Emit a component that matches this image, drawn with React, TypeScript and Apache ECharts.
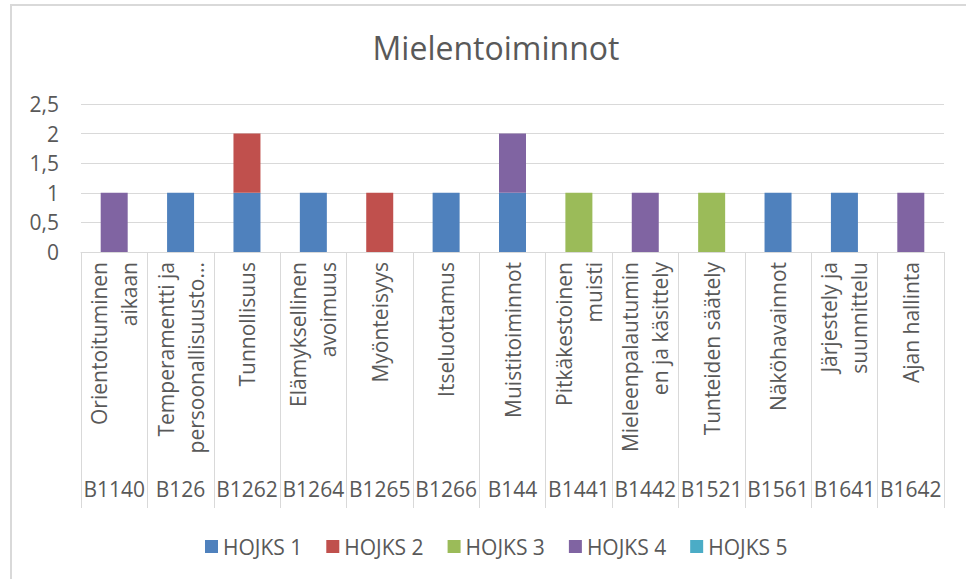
import React, { useEffect, useRef } from "react";
import * as echarts from "echarts";

const categoryNames = [
  "Orientoituminen\naikaan",
  "Temperamentti ja\npersoonallisuusto...",
  "Tunnollisuus",
  "Elämyksellinen\navoimuus",
  "Myönteisyys",
  "Itseluottamus",
  "Muistitoiminnot",
  "Pitkäkestoinen\nmuisti",
  "Mieleenpalautumin\nen ja käsittely",
  "Tunteiden säätely",
  "Näköhavainnot",
  "Järjestely ja\nsuunnittelu",
  "Ajan hallinta",
];
const categoryCodes = [
  "B1140", "B126", "B1262", "B1264", "B1265", "B1266", "B144",
  "B1441", "B1442", "B1521", "B1561", "B1641", "B1642",
];
const seriesNames = ["HOJKS 1", "HOJKS 2", "HOJKS 3", "HOJKS 4", "HOJKS 5"];
const hojks1 = [0, 1, 1, 1, 0, 1, 1, 0, 0, 0, 1, 1, 0];
const hojks2 = [0, 0, 1, 0, 1, 0, 0, 0, 0, 0, 0, 0, 0];
const hojks3 = [0, 0, 0, 0, 0, 0, 0, 1, 0, 1, 0, 0, 0];
const hojks4 = [1, 0, 0, 0, 0, 0, 1, 0, 1, 0, 0, 0, 1];
const hojks5 = [0, 0, 0, 0, 0, 0, 0, 0, 0, 0, 0, 0, 0];
const seriesValues = [hojks1, hojks2, hojks3, hojks4, hojks5];
const colors = ["#4F81BD", "#C0504D", "#9BBB59", "#8064A2", "#4BACC6"];

const FONT = "Open Sans";
const TXT = "#595959";
const GRIDC = "#D9D9D9";

export default function App() {
  const ref = useRef<HTMLDivElement>(null);
  useEffect(() => {
    if (!ref.current) return;
    const chart = echarts.init(ref.current, null, { renderer: "svg" });
    chart.setOption({
      animation: false,
      backgroundColor: "#ffffff",
      color: colors,
      textStyle: { fontFamily: FONT },
      graphic: [
        {
          type: "rect",
          shape: { x: 11, y: 5, width: 1100, height: 700 },
          style: { fill: "none", stroke: GRIDC, lineWidth: 2 },
          silent: true,
          z: -10,
        },
      ],
      title: {
        text: "Mielentoiminnot",
        left: 491,
        textAlign: "center",
        top: 26,
        textStyle: { fontFamily: FONT, fontSize: 32, fontWeight: "normal", color: TXT },
      },
      legend: {
        data: seriesNames,
        left: 200,
        top: 531,
        icon: "rect",
        itemWidth: 13,
        itemHeight: 13,
        itemGap: 24,
        textStyle: { fontFamily: FONT, fontSize: 21, color: TXT },
      },
      grid: { left: 81, right: 22, top: 104, bottom: 327, containLabel: false },
      xAxis: [
        {
          type: "category",
          data: categoryNames,
          axisLine: { show: true, lineStyle: { color: GRIDC, width: 1 } },
          axisTick: { show: true, interval: 0, length: 256, lineStyle: { color: GRIDC } },
          axisLabel: {
            interval: 0,
            rotate: 90,
            margin: 10,
            fontFamily: FONT,
            fontSize: 21,
            lineHeight: 30,
            color: TXT,
          },
        },
        {
          type: "category",
          data: categoryCodes,
          position: "bottom",
          axisLine: { show: false },
          axisTick: { show: false },
          axisLabel: {
            interval: 0,
            margin: 226,
            fontFamily: FONT,
            fontSize: 21,
            color: TXT,
          },
        },
      ],
      yAxis: {
        type: "value",
        min: 0,
        max: 2.5,
        interval: 0.5,
        axisLine: { show: false },
        axisTick: { show: false },
        splitLine: { lineStyle: { color: GRIDC, width: 1 } },
        axisLabel: {
          margin: 22,
          fontFamily: FONT,
          fontSize: 21,
          color: TXT,
          formatter: (v: number) => String(v).replace(".", ","),
        },
      },
      series: seriesNames.map((name, i) => ({
        name,
        type: "bar",
        stack: "total",
        barWidth: 27,
        xAxisIndex: 0,
        data: seriesValues[i],
        itemStyle: { color: colors[i] },
      })),
    });
    return () => chart.dispose();
  }, []);
  return (
    <div
      ref={ref}
      style={{ position: "fixed", left: 0, top: 0, width: 966, height: 579 }}
    />
  );
}
